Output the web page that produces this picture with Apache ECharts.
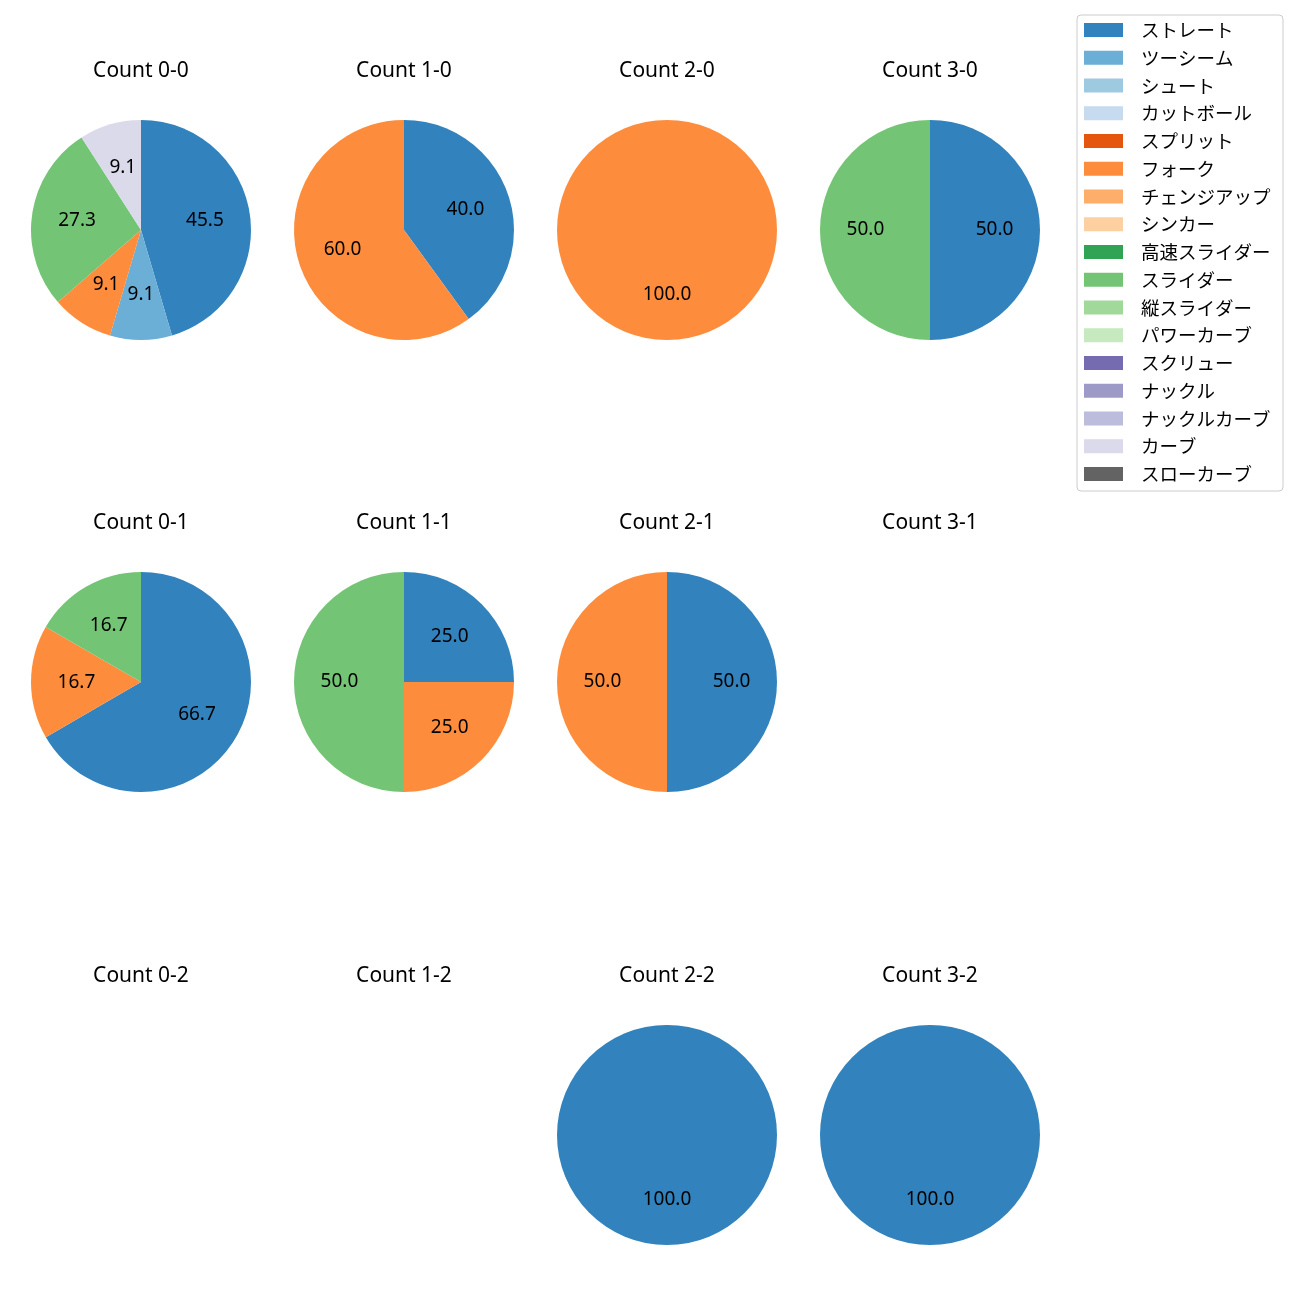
<!DOCTYPE html>
<html>
<head>
<meta charset="utf-8">
<script src="https://cdn.jsdelivr.net/npm/echarts@6/dist/echarts.min.js"></script>
<style>
html,body{margin:0;padding:0;background:#fff;}
#chart{width:1300px;height:1300px;}
</style>
</head>
<body>
<div id="chart"></div>
<script>
const categories = ['ストレート','ツーシーム','シュート','カットボール','スプリット','フォーク','チェンジアップ','シンカー','高速スライダー','スライダー','縦スライダー','パワーカーブ','スクリュー','ナックル','ナックルカーブ','カーブ','スローカーブ'];
const colors = ['#3182bd','#6baed6','#9ecae1','#c6dbef','#e6550d','#fd8d3c','#fdae6b','#fdd0a2','#31a354','#74c476','#a1d99b','#c7e9c0','#756bb1','#9e9ac8','#bcbddc','#dadaeb','#636363'];

const titles = ['Count 0-0','Count 1-0','Count 2-0','Count 3-0','Count 0-1','Count 1-1','Count 2-1','Count 3-1','Count 0-2','Count 1-2','Count 2-2','Count 3-2'];
// percentage per pie, listed as [category, percent]
const pie00 = [['ストレート',45.5],['ツーシーム',9.1],['フォーク',9.1],['スライダー',27.3],['カーブ',9.1]];
const pie10 = [['ストレート',40.0],['フォーク',60.0]];
const pie20 = [['フォーク',100.0]];
const pie30 = [['ストレート',50.0],['スライダー',50.0]];
const pie01 = [['ストレート',66.7],['フォーク',16.7],['スライダー',16.7]];
const pie11 = [['ストレート',25.0],['フォーク',25.0],['スライダー',50.0]];
const pie21 = [['ストレート',50.0],['フォーク',50.0]];
const pie31 = [];
const pie02 = [];
const pie12 = [];
const pie22 = [['ストレート',100.0]];
const pie32 = [['ストレート',100.0]];
const pies = [pie00,pie10,pie20,pie30,pie01,pie11,pie21,pie31,pie02,pie12,pie22,pie32];

const colX = [141, 404, 667, 930];
const rowY = [230, 682, 1135];
const titleY = [69, 521, 974];
const R = 110;
const CJK = '"Noto Sans CJK JP","Noto Sans",sans-serif';
const LAT = '"Noto Sans","Noto Sans CJK JP",sans-serif';

const colorOf = name => colors[categories.indexOf(name)];

const LEG_FS = 18.5;
const option = {
  animation: false,
  backgroundColor: '#fff',
  title: [],
  legend: {
    orient: 'vertical',
    left: 1077, top: 15,
    padding: [5.75, 12.5, 7.75, 7],
    itemWidth: 39, itemHeight: 14, itemGap: 27.75 - LEG_FS,
    icon: 'rect',
    backgroundColor: '#fff',
    borderColor: '#cccccc', borderWidth: 1, borderRadius: 4,
    textStyle: {fontFamily: CJK, fontSize: LEG_FS, color: '#000', padding: [0,0,0,13]},
    data: categories,
    selectedMode: false
  },
  series: []
};

// dummy series so every category appears in the legend
option.series.push({
  type: 'pie', radius: [0, 0], center: [-100, -100], silent: true,
  label: {show: false}, labelLine: {show: false},
  data: categories.map(c => ({name: c, value: 1, itemStyle: {color: colorOf(c)}}))
});

pies.forEach((pie, i) => {
  const cx = colX[i % 4], cy = rowY[Math.floor(i / 4)];
  option.title.push({
    text: titles[i], left: cx, top: titleY[Math.floor(i / 4)] - 8.5, textAlign: 'center',
    padding: 0,
    textStyle: {fontFamily: LAT, fontSize: 21, fontWeight: 'normal', color: '#000', lineHeight: 21}
  });
  if (!pie.length) return;
  const data = pie.map(([n, v]) => ({name: n, value: v, itemStyle: {color: colorOf(n)}}));
  option.series.push({
    type: 'pie', radius: [0, R], center: [cx, cy], startAngle: 90, clockwise: true,
    silent: true, label: {show: false}, labelLine: {show: false},
    itemStyle: {borderWidth: 0},
    emphasis: {disabled: true},
    data: data
  });
  option.series.push({
    type: 'pie', radius: [R * 0.12, R], center: [cx, cy], startAngle: 90, clockwise: true,
    silent: true, labelLine: {show: false},
    itemStyle: {color: 'rgba(0,0,0,0)', borderWidth: 0},
    emphasis: {disabled: true},
    label: {show: true, position: 'inside', color: '#000', fontFamily: LAT, fontSize: 19,
      formatter: p => p.value.toFixed(1)},
    data: pie.map(([n, v]) => ({name: n, value: v, itemStyle: {color: 'rgba(0,0,0,0)'}}))
  });
});

const chart = echarts.init(document.getElementById('chart'), null, {renderer: 'canvas'});
chart.setOption(option);
</script>
</body>
</html>
